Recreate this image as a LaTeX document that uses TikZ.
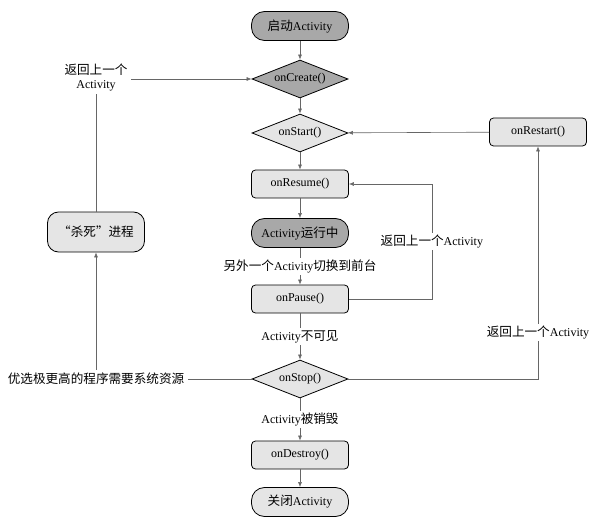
\documentclass[tikz,border=0pt]{standalone}
\usepackage{fontspec}
\setmainfont{Liberation Serif}
\newfontfamily\cjk[Scale=1.05]{Noto Sans CJK SC}
\newcommand{\cn}[1]{{\cjk #1}}
\usepackage{tikz}
\usetikzlibrary{positioning, arrows.meta, shapes.geometric}

\begin{document}
\begin{tikzpicture}[
    x=1pt, y=-1pt,
    every node/.style={font=\fontsize{12}{14}\selectfont},
    box/.style={draw, thick, rounded corners=4pt, minimum width=97pt, minimum height=28pt, fill=gray!20, inner sep=2pt},
    pill/.style={draw, thick, rounded corners=13pt, minimum width=97pt, minimum height=29pt, fill=#1, inner sep=2pt},
    dec/.style={draw, thick, diamond, aspect=2.6, minimum width=96pt, minimum height=38pt, inner sep=0pt, fill=#1},
    arrow/.style={-{Latex[length=5pt, width=4pt]}, draw=gray!80!black, semithick},
    conn/.style={draw=gray!80!black, semithick},
    lbl/.style={fill=white, inner sep=2pt, align=center},
  ]
  \useasboundingbox (0,0) rectangle (592,524);

  % ---- main column ----
  \node[pill=gray!68] (launch) at (300,26) {\cn{启动}Activity};
  \node[dec=gray!68] (create) at (300,79) {onCreate()};
  \node[dec=gray!20] (start) at (300,133) {onStart()};
  \node[box] (resume) at (300,184) {onResume()};
  \node[pill=gray!68] (running) at (300,233) {Activity\cn{运行中}};
  \node[box] (pause) at (300,299) {onPause()};
  \node[dec=gray!20] (stop) at (300,379) {onStop()};
  \node[box] (destroy) at (300,455) {onDestroy()};
  \node[pill=gray!20] (close) at (300,502) {\cn{关闭}Activity};

  % ---- side nodes ----
  \node[box] (restart) at (538,132) {onRestart()};
  \node[pill=gray!20, minimum height=40pt, rounded corners=11pt] (kill) at (96,232) {\cn{“杀死”进程}};
  \node[align=center] (back) at (96,77) {\cn{返回上一个}\\Activity};
  \node (prio) at (96,379) {\cn{优选极更高的程序需要系统资源}};

  % ---- arrows down the column ----
  \draw[arrow] (launch) -- (create);
  \draw[arrow] (create) -- (start);
  \draw[arrow] (start) -- (resume);
  \draw[arrow] (resume) -- (running);
  \draw[arrow] (running) -- node[lbl] {\cn{另外一个}Activity\cn{切换到前台}} (pause);
  \draw[arrow] (pause) -- node[lbl] {Activity\cn{不可见}} (stop);
  \draw[arrow] (stop) -- node[lbl] {Activity\cn{被销毁}} (destroy);
  \draw[arrow] (destroy) -- (close);

  % ---- loops back ----
  \draw[arrow] (pause.east) -- ++(83,0) |- node[pos=0.25, lbl] {\cn{返回上一个}Activity} (resume.east);
  \draw[arrow] (stop.east) -| node[pos=0.6, lbl] {\cn{返回上一个}Activity} (restart.south);
  \draw[arrow] (restart) -- (start);
  \draw[conn] (stop) -- (prio);
  \draw[arrow] (prio) -- (kill);
  \draw[conn] (kill) -- (back);
  \draw[arrow] (back.east |- create) -- (create);

\end{tikzpicture}
\end{document}
